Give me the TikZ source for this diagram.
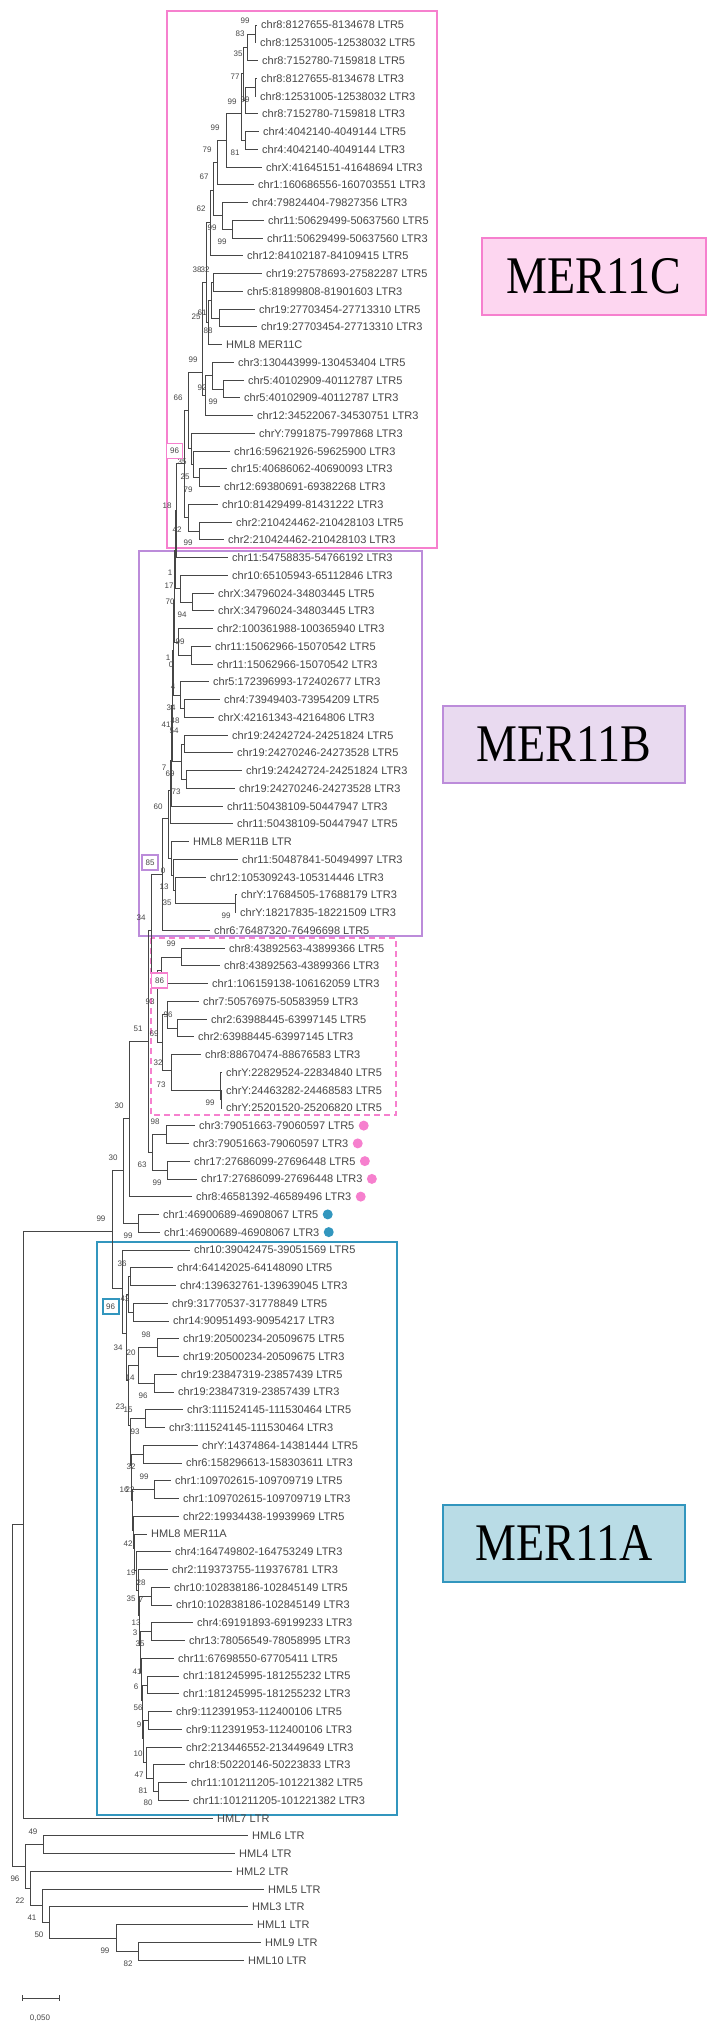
\documentclass[tikz,border=0pt]{standalone}
\usepackage{fontspec}
\setmainfont{Liberation Sans}
\newfontfamily\labelserif{Liberation Serif}
\usetikzlibrary{positioning}
\definecolor{mcpink}{RGB}{246,128,206}
\definecolor{mcfill}{RGB}{253,214,240}
\definecolor{mbpurple}{RGB}{188,140,218}
\definecolor{mbfill}{RGB}{233,218,240}
\definecolor{mablue}{RGB}{50,150,190}
\definecolor{mafill}{RGB}{185,220,230}
\definecolor{treegray}{RGB}{70,70,70}
\tikzset{leaf/.style={anchor=west,inner xsep=4pt,inner ysep=0pt,text height=8pt,text depth=0pt,font=\fontsize{11}{11}\selectfont,text=treegray}}
\tikzset{bs/.style={inner sep=0pt,font=\fontsize{8}{8}\selectfont,text=treegray}}
\tikzset{bsbox/.style={bs,draw=#1,fill=white,line width=1.5pt,minimum width=16pt,minimum height=15pt}}
\tikzset{branch/.style={draw=treegray,line width=0.7pt}}
\tikzset{clade box/.style={draw=#1,line width=2pt}}
\tikzset{clade label/.style={line width=2pt,minimum width=224pt,minimum height=77pt,font=\labelserif\fontsize{46}{46}\selectfont}}
\tikzset{dot/.style={circle,fill=#1,inner sep=0pt,minimum size=10pt}}

\begin{document}
\begin{tikzpicture}[x=1pt,y=-1pt]
\useasboundingbox (0,0) rectangle (708,2026);

% clade boxes
\draw[clade box=mcpink] (167,11) rectangle (437,548);
\draw[clade box=mbpurple] (139,551) rectangle (422,936);
\draw[clade box=mcpink,dash pattern=on 6pt off 4pt] (151,938) rectangle (396,1115);
\draw[clade box=mablue,line width=2.5pt] (97,1242) rectangle (397,1815);

% leaves
\node[leaf] (l1) at (257,25.0) {chr8:8127655-8134678 LTR5};
\node[leaf] (l2) at (256,42.75) {chr8:12531005-12538032 LTR5};
\node[leaf] (l3) at (258,60.5) {chr8:7152780-7159818 LTR5};
\node[leaf] (l4) at (257,78.3) {chr8:8127655-8134678 LTR3};
\node[leaf] (l5) at (256,96.0) {chr8:12531005-12538032 LTR3};
\node[leaf] (l6) at (258,113.8) {chr8:7152780-7159818 LTR3};
\node[leaf] (l7) at (259,131.5) {chr4:4042140-4049144 LTR5};
\node[leaf] (l8) at (258,149.3) {chr4:4042140-4049144 LTR3};
\node[leaf] (l9) at (262,167.0) {chrX:41645151-41648694 LTR3};
\node[leaf] (l10) at (254,184.8) {chr1:160686556-160703551 LTR3};
\node[leaf] (l11) at (248,202.5) {chr4:79824404-79827356 LTR3};
\node[leaf] (l12) at (264,220.3) {chr11:50629499-50637560 LTR5};
\node[leaf] (l13) at (263,238.0) {chr11:50629499-50637560 LTR3};
\node[leaf] (l14) at (243,255.8) {chr12:84102187-84109415 LTR5};
\node[leaf] (l15) at (262,273.5) {chr19:27578693-27582287 LTR5};
\node[leaf] (l16) at (243,291.3) {chr5:81899808-81901603 LTR3};
\node[leaf] (l17) at (255,309.0) {chr19:27703454-27713310 LTR5};
\node[leaf] (l18) at (257,326.8) {chr19:27703454-27713310 LTR3};
\node[leaf] (l19) at (222,344.5) {HML8 MER11C};
\node[leaf] (l20) at (234,362.3) {chr3:130443999-130453404 LTR5};
\node[leaf] (l21) at (244,380.0) {chr5:40102909-40112787 LTR5};
\node[leaf] (l22) at (240,397.8) {chr5:40102909-40112787 LTR3};
\node[leaf] (l23) at (253,415.5) {chr12:34522067-34530751 LTR3};
\node[leaf] (l24) at (255,433.3) {chrY:7991875-7997868 LTR3};
\node[leaf] (l25) at (230,451.0) {chr16:59621926-59625900 LTR3};
\node[leaf] (l26) at (227,468.8) {chr15:40686062-40690093 LTR3};
\node[leaf] (l27) at (220,486.5) {chr12:69380691-69382268 LTR3};
\node[leaf] (l28) at (218,504.3) {chr10:81429499-81431222 LTR3};
\node[leaf] (l29) at (232,522.0) {chr2:210424462-210428103 LTR5};
\node[leaf] (l30) at (224,539.8) {chr2:210424462-210428103 LTR3};
\node[leaf] (l31) at (228,557.5) {chr11:54758835-54766192 LTR3};
\node[leaf] (l32) at (228,575.3) {chr10:65105943-65112846 LTR3};
\node[leaf] (l33) at (214,593.0) {chrX:34796024-34803445 LTR5};
\node[leaf] (l34) at (214,610.8) {chrX:34796024-34803445 LTR3};
\node[leaf] (l35) at (213,628.6) {chr2:100361988-100365940 LTR3};
\node[leaf] (l36) at (211,646.3) {chr11:15062966-15070542 LTR5};
\node[leaf] (l37) at (213,664.1) {chr11:15062966-15070542 LTR3};
\node[leaf] (l38) at (209,681.8) {chr5:172396993-172402677 LTR3};
\node[leaf] (l39) at (220,699.6) {chr4:73949403-73954209 LTR5};
\node[leaf] (l40) at (214,717.3) {chrX:42161343-42164806 LTR3};
\node[leaf] (l41) at (228,735.1) {chr19:24242724-24251824 LTR5};
\node[leaf] (l42) at (233,752.8) {chr19:24270246-24273528 LTR5};
\node[leaf] (l43) at (242,770.6) {chr19:24242724-24251824 LTR3};
\node[leaf] (l44) at (235,788.3) {chr19:24270246-24273528 LTR3};
\node[leaf] (l45) at (223,806.1) {chr11:50438109-50447947 LTR3};
\node[leaf] (l46) at (233,823.8) {chr11:50438109-50447947 LTR5};
\node[leaf] (l47) at (189,841.6) {HML8 MER11B LTR};
\node[leaf] (l48) at (238,859.3) {chr11:50487841-50494997 LTR3};
\node[leaf] (l49) at (206,877.1) {chr12:105309243-105314446 LTR3};
\node[leaf] (l50) at (237,894.8) {chrY:17684505-17688179 LTR3};
\node[leaf] (l51) at (236,912.6) {chrY:18217835-18221509 LTR3};
\node[leaf] (l52) at (210,930.3) {chr6:76487320-76496698 LTR5};
\node[leaf] (l53) at (225,948.1) {chr8:43892563-43899366 LTR5};
\node[leaf] (l54) at (220,965.8) {chr8:43892563-43899366 LTR3};
\node[leaf] (l55) at (208,983.6) {chr1:106159138-106162059 LTR3};
\node[leaf] (l56) at (199,1001.3) {chr7:50576975-50583959 LTR3};
\node[leaf] (l57) at (207,1019.1) {chr2:63988445-63997145 LTR5};
\node[leaf] (l58) at (194,1036.8) {chr2:63988445-63997145 LTR3};
\node[leaf] (l59) at (201,1054.6) {chr8:88670474-88676583 LTR3};
\node[leaf] (l60) at (222,1072.3) {chrY:22829524-22834840 LTR5};
\node[leaf] (l61) at (222,1090.1) {chrY:24463282-24468583 LTR5};
\node[leaf] (l62) at (222,1107.9) {chrY:25201520-25206820 LTR5};
\node[leaf] (l63) at (195,1125.6) {chr3:79051663-79060597 LTR5};
\node[leaf] (l64) at (189,1143.4) {chr3:79051663-79060597 LTR3};
\node[leaf] (l65) at (190,1161.1) {chr17:27686099-27696448 LTR5};
\node[leaf] (l66) at (197,1178.9) {chr17:27686099-27696448 LTR3};
\node[leaf] (l67) at (192,1196.6) {chr8:46581392-46589496 LTR3};
\node[leaf] (l68) at (159,1214.4) {chr1:46900689-46908067 LTR5};
\node[leaf] (l69) at (160,1232.1) {chr1:46900689-46908067 LTR3};
\node[leaf] (l70) at (190,1249.9) {chr10:39042475-39051569 LTR5};
\node[leaf] (l71) at (173,1267.6) {chr4:64142025-64148090 LTR5};
\node[leaf] (l72) at (176,1285.4) {chr4:139632761-139639045 LTR3};
\node[leaf] (l73) at (168,1303.1) {chr9:31770537-31778849 LTR5};
\node[leaf] (l74) at (169,1320.9) {chr14:90951493-90954217 LTR3};
\node[leaf] (l75) at (179,1338.6) {chr19:20500234-20509675 LTR5};
\node[leaf] (l76) at (179,1356.4) {chr19:20500234-20509675 LTR3};
\node[leaf] (l77) at (177,1374.1) {chr19:23847319-23857439 LTR5};
\node[leaf] (l78) at (174,1391.9) {chr19:23847319-23857439 LTR3};
\node[leaf] (l79) at (183,1409.7) {chr3:111524145-111530464 LTR5};
\node[leaf] (l80) at (165,1427.4) {chr3:111524145-111530464 LTR3};
\node[leaf] (l81) at (198,1445.2) {chrY:14374864-14381444 LTR5};
\node[leaf] (l82) at (182,1462.9) {chr6:158296613-158303611 LTR3};
\node[leaf] (l83) at (171,1480.7) {chr1:109702615-109709719 LTR5};
\node[leaf] (l84) at (179,1498.4) {chr1:109702615-109709719 LTR3};
\node[leaf] (l85) at (179,1516.2) {chr22:19934438-19939969 LTR5};
\node[leaf] (l86) at (147,1533.9) {HML8 MER11A};
\node[leaf] (l87) at (171,1551.7) {chr4:164749802-164753249 LTR3};
\node[leaf] (l88) at (168,1569.4) {chr2:119373755-119376781 LTR3};
\node[leaf] (l89) at (170,1587.2) {chr10:102838186-102845149 LTR5};
\node[leaf] (l90) at (172,1604.9) {chr10:102838186-102845149 LTR3};
\node[leaf] (l91) at (193,1622.7) {chr4:69191893-69199233 LTR3};
\node[leaf] (l92) at (185,1640.4) {chr13:78056549-78058995 LTR3};
\node[leaf] (l93) at (174,1658.2) {chr11:67698550-67705411 LTR5};
\node[leaf] (l94) at (179,1675.9) {chr1:181245995-181255232 LTR5};
\node[leaf] (l95) at (179,1693.7) {chr1:181245995-181255232 LTR3};
\node[leaf] (l96) at (172,1711.4) {chr9:112391953-112400106 LTR5};
\node[leaf] (l97) at (182,1729.2) {chr9:112391953-112400106 LTR3};
\node[leaf] (l98) at (182,1747.0) {chr2:213446552-213449649 LTR3};
\node[leaf] (l99) at (185,1764.7) {chr18:50220146-50223833 LTR3};
\node[leaf] (l100) at (187,1782.5) {chr11:101211205-101221382 LTR5};
\node[leaf] (l101) at (189,1800.2) {chr11:101211205-101221382 LTR3};
\node[leaf] (l102) at (213,1818.0) {HML7 LTR};
\node[leaf] (l103) at (248,1835.7) {HML6 LTR};
\node[leaf] (l104) at (235,1853.5) {HML4 LTR};
\node[leaf] (l105) at (232,1871.2) {HML2 LTR};
\node[leaf] (l106) at (264,1889.0) {HML5 LTR};
\node[leaf] (l107) at (248,1906.7) {HML3 LTR};
\node[leaf] (l108) at (253,1924.5) {HML1 LTR};
\node[leaf] (l109) at (261,1942.2) {HML9 LTR};
\node[leaf] (l110) at (244,1960.0) {HML10 LTR};

% inner nodes, MER11C
\coordinate (c12) at (255,33.9);
\coordinate (c123) at (247,47);
\coordinate (c45) at (255,87);
\coordinate (c456) at (245,100);
\coordinate (c1-6) at (243,73);
\coordinate (c78) at (245,140.4);
\coordinate (c1-8) at (241,113);
\coordinate (c1-9) at (226,140);
\coordinate (c1-10) at (217,162);
\coordinate (c1213) at (232,229);
\coordinate (c11-13) at (222,215);
\coordinate (c1-13) at (213,190);
\coordinate (c1-14) at (210,222);
\coordinate (c1516) at (213,282);
\coordinate (c1718) at (219,318);
\coordinate (c15-18) at (211,300);
\coordinate (c15-19) at (208,322);
\coordinate (c1-19) at (206,282);
\coordinate (c2122) at (223,389);
\coordinate (c20-22) at (212,375);
\coordinate (c20-23) at (205,395);
\coordinate (c1-23) at (202,372);
\coordinate (c2627) at (199,477.6);
\coordinate (c25-27) at (193,464);
\coordinate (c24-27) at (191,448);
\coordinate (c1-27) at (188,410);
\coordinate (c2930) at (199,531);
\coordinate (c28-30) at (188,517);
\coordinate (cR) at (184,463);
% inner nodes, MER11B
\coordinate (b1) at (176,510);
\coordinate (b3334) at (192,601.9);
\coordinate (b32-34) at (180,588.5);
\coordinate (b2) at (175,550);
\coordinate (b3637) at (191,655);
\coordinate (b35-37) at (178,642);
\coordinate (b3) at (174,600);
\coordinate (b3940) at (184,708.4);
\coordinate (b38-40) at (180,695);
\coordinate (b4) at (173,650);
\coordinate (b4142) at (184,743.9);
\coordinate (b4344) at (186,779.4);
\coordinate (b41-44) at (181,761);
\coordinate (b5) at (172,705);
\coordinate (b6) at (171,760);
\coordinate (b7) at (170,790);
\coordinate (b5051) at (235,903.6);
\coordinate (b49-51) at (175,890);
\coordinate (b48-51) at (173,875);
\coordinate (b47-51) at (171,858);
\coordinate (b8) at (168,818);
\coordinate (t1) at (162,874);
% inner nodes, dashed group and dots
\coordinate (dA) at (181,956.9);
\coordinate (dI) at (161,970);
\coordinate (dB) at (177,1027.9);
\coordinate (dH) at (167,1014.6);
\coordinate (dC) at (221,1098.9);
\coordinate (dD) at (220,1090);
\coordinate (dE) at (171,1070);
\coordinate (dF) at (162,1042);
\coordinate (dJ) at (157,986);
\coordinate (t2) at (151,930);
\coordinate (g6364) at (166,1134.4);
\coordinate (g6566) at (167,1169.9);
\coordinate (g63-66) at (152,1152);
\coordinate (p1) at (148,1041);
\coordinate (p0) at (129,1118);
\coordinate (h6869) at (138,1223.1);
\coordinate (q) at (123,1170);
\coordinate (y) at (112,1231);
% inner nodes, MER11A
\coordinate (a7172) at (130,1276.5);
\coordinate (a7374) at (133,1312);
\coordinate (a7576) at (157,1347.5);
\coordinate (a7778) at (154,1383);
\coordinate (a75-78) at (138,1365);
\coordinate (a7980) at (145,1418.5);
\coordinate (a8182) at (143,1454);
\coordinate (a8384) at (154,1489.5);
\coordinate (a8990) at (151,1596);
\coordinate (a9192) at (151,1631.5);
\coordinate (a9495) at (147,1685);
\coordinate (a9697) at (148,1720.5);
\coordinate (a100101) at (158,1791.5);
\coordinate (a99-101) at (153,1778);
\coordinate (a98-101) at (146,1762);
\coordinate (k1) at (128,1294);
\coordinate (k2) at (126,1333);
\coordinate (k3) at (128,1380);
\coordinate (k4) at (130,1425);
\coordinate (k5) at (131,1465);
\coordinate (k6) at (132,1500);
\coordinate (k7) at (133,1530);
\coordinate (k8) at (134,1548);
\coordinate (k9) at (136,1570);
\coordinate (k10) at (138,1590);
\coordinate (k11) at (139,1615);
\coordinate (k12) at (140,1645);
\coordinate (k13) at (141,1672);
\coordinate (k14) at (142,1700);
\coordinate (k15) at (143,1738);
\coordinate (a0) at (122,1288);
% inner nodes, outgroup
\coordinate (x) at (23,1524);
\coordinate (m103104) at (43,1844.6);
\coordinate (m109110) at (138,1951.1);
\coordinate (m108-110) at (116,1938);
\coordinate (m107-110) at (49,1922);
\coordinate (m106-110) at (42,1905);
\coordinate (m105-110) at (30,1888);
\coordinate (m103-110) at (25,1866);
\coordinate (root) at (12,1695);

% branches
\draw[branch] (c12) |- (l1) (c12) |- (l2);
\draw[branch] (c123) |- (c12) (c123) |- (l3);
\draw[branch] (c45) |- (l4) (c45) |- (l5);
\draw[branch] (c456) |- (c45) (c456) |- (l6);
\draw[branch] (c1-6) |- (c123) (c1-6) |- (c456);
\draw[branch] (c78) |- (l7) (c78) |- (l8);
\draw[branch] (c1-8) |- (c1-6) (c1-8) |- (c78);
\draw[branch] (c1-9) |- (c1-8) (c1-9) |- (l9);
\draw[branch] (c1-10) |- (c1-9) (c1-10) |- (l10);
\draw[branch] (c1213) |- (l12) (c1213) |- (l13);
\draw[branch] (c11-13) |- (l11) (c11-13) |- (c1213);
\draw[branch] (c1-13) |- (c1-10) (c1-13) |- (c11-13);
\draw[branch] (c1-14) |- (c1-13) (c1-14) |- (l14);
\draw[branch] (c1516) |- (l15) (c1516) |- (l16);
\draw[branch] (c1718) |- (l17) (c1718) |- (l18);
\draw[branch] (c15-18) |- (c1516) (c15-18) |- (c1718);
\draw[branch] (c15-19) |- (c15-18) (c15-19) |- (l19);
\draw[branch] (c1-19) |- (c1-14) (c1-19) |- (c15-19);
\draw[branch] (c2122) |- (l21) (c2122) |- (l22);
\draw[branch] (c20-22) |- (l20) (c20-22) |- (c2122);
\draw[branch] (c20-23) |- (c20-22) (c20-23) |- (l23);
\draw[branch] (c1-23) |- (c1-19) (c1-23) |- (c20-23);
\draw[branch] (c2627) |- (l26) (c2627) |- (l27);
\draw[branch] (c25-27) |- (l25) (c25-27) |- (c2627);
\draw[branch] (c24-27) |- (l24) (c24-27) |- (c25-27);
\draw[branch] (c1-27) |- (c1-23) (c1-27) |- (c24-27);
\draw[branch] (c2930) |- (l29) (c2930) |- (l30);
\draw[branch] (c28-30) |- (l28) (c28-30) |- (c2930);
\draw[branch] (cR) |- (c1-27) (cR) |- (c28-30);
\draw[branch] (b1) |- (cR) (b1) |- (l31);
\draw[branch] (b3334) |- (l33) (b3334) |- (l34);
\draw[branch] (b32-34) |- (l32) (b32-34) |- (b3334);
\draw[branch] (b2) |- (b1) (b2) |- (b32-34);
\draw[branch] (b3637) |- (l36) (b3637) |- (l37);
\draw[branch] (b35-37) |- (l35) (b35-37) |- (b3637);
\draw[branch] (b3) |- (b2) (b3) |- (b35-37);
\draw[branch] (b3940) |- (l39) (b3940) |- (l40);
\draw[branch] (b38-40) |- (l38) (b38-40) |- (b3940);
\draw[branch] (b4) |- (b3) (b4) |- (b38-40);
\draw[branch] (b4142) |- (l41) (b4142) |- (l42);
\draw[branch] (b4344) |- (l43) (b4344) |- (l44);
\draw[branch] (b41-44) |- (b4142) (b41-44) |- (b4344);
\draw[branch] (b5) |- (b4) (b5) |- (b41-44);
\draw[branch] (b6) |- (b5) (b6) |- (l45);
\draw[branch] (b7) |- (b6) (b7) |- (l46);
\draw[branch] (b5051) |- (l50) (b5051) |- (l51);
\draw[branch] (b49-51) |- (l49) (b49-51) |- (b5051);
\draw[branch] (b48-51) |- (l48) (b48-51) |- (b49-51);
\draw[branch] (b47-51) |- (l47) (b47-51) |- (b48-51);
\draw[branch] (b8) |- (b7) (b8) |- (b47-51);
\draw[branch] (t1) |- (b8) (t1) |- (l52);
\draw[branch] (dA) |- (l53) (dA) |- (l54);
\draw[branch] (dI) |- (dA) (dI) |- (l55);
\draw[branch] (dB) |- (l57) (dB) |- (l58);
\draw[branch] (dH) |- (l56) (dH) |- (dB);
\draw[branch] (dC) |- (l61) (dC) |- (l62);
\draw[branch] (dD) |- (l60) (dD) |- (dC);
\draw[branch] (dE) |- (l59) (dE) |- (dD);
\draw[branch] (dF) |- (dH) (dF) |- (dE);
\draw[branch] (dJ) |- (dI) (dJ) |- (dF);
\draw[branch] (t2) |- (t1) (t2) |- (dJ);
\draw[branch] (g6364) |- (l63) (g6364) |- (l64);
\draw[branch] (g6566) |- (l65) (g6566) |- (l66);
\draw[branch] (g63-66) |- (g6364) (g63-66) |- (g6566);
\draw[branch] (p1) |- (t2) (p1) |- (g63-66);
\draw[branch] (p0) |- (p1) (p0) |- (l67);
\draw[branch] (h6869) |- (l68) (h6869) |- (l69);
\draw[branch] (q) |- (p0) (q) |- (h6869);
\draw[branch] (y) |- (q) (y) |- (a0);
\draw[branch] (a7172) |- (l71) (a7172) |- (l72);
\draw[branch] (a7374) |- (l73) (a7374) |- (l74);
\draw[branch] (a7576) |- (l75) (a7576) |- (l76);
\draw[branch] (a7778) |- (l77) (a7778) |- (l78);
\draw[branch] (a75-78) |- (a7576) (a75-78) |- (a7778);
\draw[branch] (a7980) |- (l79) (a7980) |- (l80);
\draw[branch] (a8182) |- (l81) (a8182) |- (l82);
\draw[branch] (a8384) |- (l83) (a8384) |- (l84);
\draw[branch] (a8990) |- (l89) (a8990) |- (l90);
\draw[branch] (a9192) |- (l91) (a9192) |- (l92);
\draw[branch] (a9495) |- (l94) (a9495) |- (l95);
\draw[branch] (a9697) |- (l96) (a9697) |- (l97);
\draw[branch] (a100101) |- (l100) (a100101) |- (l101);
\draw[branch] (a99-101) |- (l99) (a99-101) |- (a100101);
\draw[branch] (a98-101) |- (l98) (a98-101) |- (a99-101);
\draw[branch] (k1) |- (a7172) (k1) |- (a7374);
\draw[branch] (k2) |- (k1) (k2) |- (k3);
\draw[branch] (k3) |- (a75-78) (k3) |- (k4);
\draw[branch] (k4) |- (a7980) (k4) |- (k5);
\draw[branch] (k5) |- (a8182) (k5) |- (k6);
\draw[branch] (k6) |- (a8384) (k6) |- (k7);
\draw[branch] (k7) |- (l85) (k7) |- (k8);
\draw[branch] (k8) |- (l86) (k8) |- (k9);
\draw[branch] (k9) |- (l87) (k9) |- (k10);
\draw[branch] (k10) |- (l88) (k10) |- (k11);
\draw[branch] (k11) |- (a8990) (k11) |- (k12);
\draw[branch] (k12) |- (a9192) (k12) |- (k13);
\draw[branch] (k13) |- (l93) (k13) |- (k14);
\draw[branch] (k14) |- (a9495) (k14) |- (k15);
\draw[branch] (k15) |- (a9697) (k15) |- (a98-101);
\draw[branch] (a0) |- (l70) (a0) |- (k2);
\draw[branch] (x) |- (y) (x) |- (l102);
\draw[branch] (m103104) |- (l103) (m103104) |- (l104);
\draw[branch] (m109110) |- (l109) (m109110) |- (l110);
\draw[branch] (m108-110) |- (l108) (m108-110) |- (m109110);
\draw[branch] (m107-110) |- (l107) (m107-110) |- (m108-110);
\draw[branch] (m106-110) |- (l106) (m106-110) |- (m107-110);
\draw[branch] (m105-110) |- (l105) (m105-110) |- (m106-110);
\draw[branch] (m103-110) |- (m103104) (m103-110) |- (m105-110);
\draw[branch] (root) |- (x) (root) |- (m103-110);

% bootstrap values
\node[bs] (v1) at (245,21) {99};
\node[bs] (v2) at (240,34) {83};
\node[bs] (v3) at (238,54) {35};
\node[bs] (v4) at (235,77) {77};
\node[bs] (v5) at (232,102) {99};
\node[bs] (v6) at (245,100) {99};
\node[bs] (v7) at (215,128) {99};
\node[bs] (v8) at (207,150) {79};
\node[bs] (v9) at (235,153) {81};
\node[bs] (v10) at (204,177) {67};
\node[bs] (v11) at (201,209) {62};
\node[bs] (v12) at (212,228) {99};
\node[bs] (v13) at (222,242) {99};
\node[bs] (v14) at (197,270) {38};
\node[bs] (v15) at (205,270) {32};
\node[bs] (v16) at (202,313) {61};
\node[bs] (v17) at (196,317) {25};
\node[bs] (v18) at (208,331) {88};
\node[bs] (v19) at (193,360) {99};
\node[bs] (v20) at (202,388) {92};
\node[bs] (v21) at (213,402) {99};
\node[bs] (v22) at (178,398) {66};
\node[bs] (v23) at (182,462) {35};
\node[bs] (v24) at (185,477) {25};
\node[bs] (v25) at (188,490) {79};
\node[bs] (v26) at (167,506) {18};
\node[bs] (v27) at (177,530) {42};
\node[bs] (v28) at (188,543) {99};
\node[bs] (v29) at (170,573) {1};
\node[bs] (v30) at (169,586) {17};
\node[bs] (v31) at (170,602) {70};
\node[bs] (v32) at (182,615) {94};
\node[bs] (v33) at (180,642) {99};
\node[bs] (v34) at (168,658) {1};
\node[bs] (v35) at (171,665) {0};
\node[bs] (v36) at (173,687) {4};
\node[bs] (v37) at (171,708) {34};
\node[bs] (v38) at (175,721) {48};
\node[bs] (v39) at (166,725) {41};
\node[bs] (v40) at (174,731) {54};
\node[bs] (v41) at (164,768) {7};
\node[bs] (v42) at (170,774) {69};
\node[bs] (v43) at (176,792) {73};
\node[bs] (v44) at (158,807) {60};
\node[bs] (v45) at (163,871) {0};
\node[bs] (v46) at (164,887) {13};
\node[bs] (v47) at (167,903) {35};
\node[bs] (v48) at (226,916) {99};
\node[bs] (v49) at (141,918) {34};
\node[bs] (v50) at (171,944) {99};
\node[bs] (v51) at (150,1002) {93};
\node[bs] (v52) at (168,1015) {96};
\node[bs] (v53) at (154,1034) {69};
\node[bs] (v54) at (138,1029) {51};
\node[bs] (v55) at (158,1063) {32};
\node[bs] (v56) at (161,1085) {73};
\node[bs] (v57) at (210,1103) {99};
\node[bs] (v58) at (119,1106) {30};
\node[bs] (v59) at (155,1122) {98};
\node[bs] (v60) at (142,1165) {63};
\node[bs] (v61) at (157,1183) {99};
\node[bs] (v62) at (113,1158) {30};
\node[bs] (v63) at (101,1219) {99};
\node[bs] (v64) at (128,1236) {99};
\node[bs] (v65) at (122,1264) {36};
\node[bs] (v66) at (125,1299) {42};
\node[bs] (v67) at (146,1335) {98};
\node[bs] (v68) at (118,1348) {34};
\node[bs] (v69) at (131,1353) {20};
\node[bs] (v70) at (130,1378) {14};
\node[bs] (v71) at (143,1396) {96};
\node[bs] (v72) at (120,1407) {23};
\node[bs] (v73) at (128,1410) {15};
\node[bs] (v74) at (135,1432) {93};
\node[bs] (v75) at (131,1467) {32};
\node[bs] (v76) at (144,1477) {99};
\node[bs] (v77) at (124,1490) {16};
\node[bs] (v78) at (130,1490) {22};
\node[bs] (v79) at (128,1544) {42};
\node[bs] (v80) at (131,1573) {19};
\node[bs] (v81) at (141,1583) {28};
\node[bs] (v82) at (131,1599) {35};
\node[bs] (v83) at (141,1600) {7};
\node[bs] (v84) at (136,1623) {13};
\node[bs] (v85) at (135,1633) {3};
\node[bs] (v86) at (140,1644) {35};
\node[bs] (v87) at (137,1672) {41};
\node[bs] (v88) at (136,1687) {6};
\node[bs] (v89) at (138,1708) {56};
\node[bs] (v90) at (139,1725) {9};
\node[bs] (v91) at (138,1754) {10};
\node[bs] (v92) at (139,1775) {47};
\node[bs] (v93) at (143,1791) {81};
\node[bs] (v94) at (148,1803) {80};
\node[bs] (v95) at (33,1832) {49};
\node[bs] (v96) at (15,1879) {96};
\node[bs] (v97) at (20,1901) {22};
\node[bs] (v98) at (32,1918) {41};
\node[bs] (v99) at (39,1935) {50};
\node[bs] (v100) at (105,1951) {99};
\node[bs] (v101) at (128,1964) {82};
% boxed values
\node[bsbox=mcpink] (vC) at (174.5,451) {96};
\node[bsbox=mbpurple] (vB) at (150,862.5) {85};
\node[bsbox=mcpink] (vD) at (159.5,980.5) {86};
\node[bsbox=mablue,line width=2pt] (vA) at (110.5,1306.5) {96};

% coloured dots
\node[dot=mcpink, right=0pt of l63] (d63) {};
\node[dot=mcpink, right=0pt of l64] (d64) {};
\node[dot=mcpink, right=0pt of l65] (d65) {};
\node[dot=mcpink, right=0pt of l66] (d66) {};
\node[dot=mcpink, right=0pt of l67] (d67) {};
\node[dot=mablue, right=0pt of l68] (d68) {};
\node[dot=mablue, right=0pt of l69] (d69) {};

% clade names
\node[clade label,draw=mcpink,fill=mcfill] (labC) at (594,276.5) {\scalebox{1}[1.15]{MER11C}};
\node[clade label,draw=mbpurple,fill=mbfill,minimum width=242pt] (labB) at (564,744) {\scalebox{1}[1.15]{MER11B}};
\node[clade label,draw=mablue,fill=mafill,minimum width=242pt] (labA) at (564,1543.5) {\scalebox{1}[1.15]{MER11A}};

% scale bar
\coordinate (s0) at (22,1998);
\coordinate (s1) at (59,1998);
\draw[branch] (s0) -- (s1);
\draw[branch] ([yshift=3pt]s0) -- ([yshift=-3pt]s0);
\draw[branch] ([yshift=3pt]s1) -- ([yshift=-3pt]s1);
\node[bs] (slab) at (40,2018) {0,050};
\end{tikzpicture}
\end{document}
